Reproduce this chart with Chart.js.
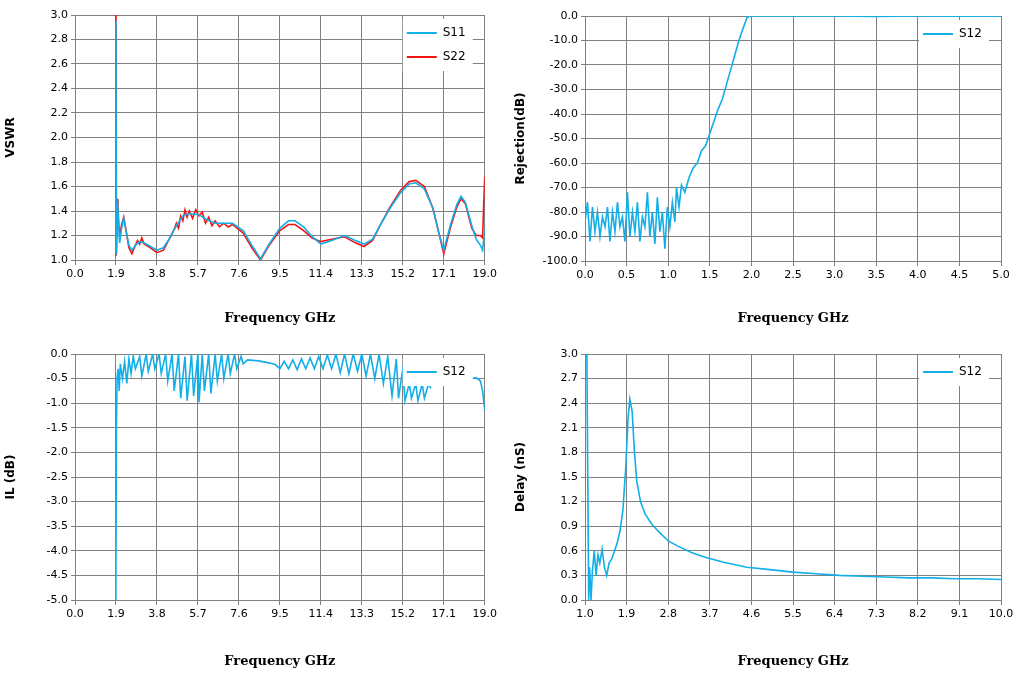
<!DOCTYPE html>
<html><head><meta charset="utf-8">
<script src="https://cdn.jsdelivr.net/npm/chart.js@4"></script>
<style>
body{margin:0;background:#fff;width:1027px;height:673px;position:relative;overflow:hidden}
.box{position:absolute}
</style></head><body>
<div class="box" style="left:0;top:0;width:500px;height:330px"><canvas id="c1"></canvas></div>
<div class="box" style="left:510px;top:0;width:517px;height:330px"><canvas id="c2"></canvas></div>
<div class="box" style="left:0;top:340px;width:500px;height:333px"><canvas id="c3"></canvas></div>
<div class="box" style="left:510px;top:340px;width:517px;height:333px"><canvas id="c4"></canvas></div>
<script>
const BLUE='#12aee8', RED='#f41414';

// VSWR
const s11=[[1.88,1.05],[1.9,2.95],[1.92,1.05],[1.95,1.3],[1.97,1.48],[2.02,1.3],[2.07,1.14],[2.15,1.25],[2.26,1.34],[2.35,1.25],[2.5,1.12],[2.64,1.08],[2.8,1.12],[3.0,1.15],[3.2,1.14],[3.5,1.11],[3.8,1.08],[4.1,1.1],[4.4,1.18],[4.7,1.28],[5.0,1.36],[5.3,1.38],[5.75,1.37],[6.1,1.33],[6.5,1.3],[6.9,1.3],[7.3,1.3],[7.8,1.24],[8.2,1.12],[8.6,1.01],[9.0,1.13],[9.5,1.26],[9.9,1.32],[10.2,1.32],[10.6,1.27],[11.0,1.19],[11.4,1.13],[11.9,1.16],[12.5,1.2],[13.0,1.16],[13.4,1.13],[13.8,1.17],[14.2,1.3],[14.6,1.42],[15.1,1.55],[15.5,1.62],[15.8,1.63],[16.2,1.58],[16.6,1.42],[16.9,1.2],[17.1,1.08],[17.4,1.28],[17.7,1.45],[17.9,1.52],[18.1,1.47],[18.4,1.28],[18.6,1.17],[18.8,1.12],[18.9,1.08],[19.0,1.25]];
const s22=[[1.88,1.04],[1.9,3.0],[1.92,1.05],[1.95,1.35],[1.98,1.5],[2.03,1.28],[2.08,1.2],[2.15,1.28],[2.26,1.35],[2.35,1.26],[2.5,1.1],[2.64,1.05],[2.8,1.12],[2.9,1.16],[3.0,1.13],[3.1,1.18],[3.2,1.13],[3.5,1.1],[3.8,1.06],[4.1,1.08],[4.4,1.18],[4.6,1.25],[4.7,1.3],[4.8,1.26],[4.9,1.36],[5.0,1.32],[5.1,1.41],[5.2,1.35],[5.3,1.4],[5.45,1.34],[5.6,1.41],[5.75,1.36],[5.9,1.39],[6.05,1.3],[6.2,1.35],[6.35,1.28],[6.5,1.32],[6.7,1.27],[6.9,1.3],[7.1,1.27],[7.3,1.29],[7.8,1.22],[8.2,1.1],[8.6,1.0],[9.0,1.12],[9.5,1.24],[9.9,1.29],[10.2,1.29],[10.6,1.24],[11.0,1.18],[11.4,1.15],[11.9,1.17],[12.5,1.19],[13.0,1.14],[13.4,1.11],[13.8,1.16],[14.2,1.3],[14.6,1.43],[15.1,1.57],[15.5,1.64],[15.8,1.65],[16.2,1.6],[16.6,1.42],[16.9,1.2],[17.1,1.05],[17.4,1.26],[17.7,1.43],[17.9,1.5],[18.1,1.46],[18.4,1.26],[18.6,1.2],[18.8,1.2],[18.9,1.18],[18.95,1.45],[19.0,1.68]];

// Rejection
const rej=[[0,-84],[0.03,-76],[0.06,-92],[0.09,-78],[0.12,-88],[0.15,-80],[0.18,-90],[0.21,-82],[0.24,-86],[0.27,-78],[0.3,-92],[0.33,-80],[0.36,-88],[0.39,-76],[0.42,-86],[0.45,-82],[0.48,-92],[0.51,-72],[0.54,-90],[0.57,-80],[0.6,-88],[0.63,-76],[0.66,-92],[0.69,-82],[0.72,-86],[0.75,-72],[0.78,-90],[0.81,-80],[0.84,-93],[0.87,-74],[0.9,-88],[0.93,-80],[0.96,-95],[0.99,-78],[1.02,-86],[1.05,-76],[1.08,-84],[1.1,-70],[1.13,-78],[1.16,-69],[1.2,-72],[1.25,-66],[1.3,-62],[1.35,-60],[1.4,-55],[1.45,-53],[1.5,-48],[1.55,-43],[1.6,-38],[1.65,-34],[1.7,-28],[1.75,-22],[1.8,-16],[1.85,-10],[1.9,-5],[1.95,-0.5],[2.0,0],[2.5,0],[3,0],[3.5,-0.2],[4,0],[4.5,-0.1],[5,0]];

// IL
const il=[[1.88,-5],[1.89,-3],[1.9,-4.9],[1.92,-1.5],[1.95,-0.5],[2.0,-0.3],[2.05,-0.75],[2.1,-0.2],[2.2,-0.5],[2.3,-0.15],[2.4,-0.6],[2.5,-0.1],[2.6,-0.4],[2.7,-0.05],[2.8,-0.3],[3.0,-0.05],[3.1,-0.45],[3.3,0],[3.4,-0.35],[3.6,0],[3.7,-0.3],[3.9,0],[4.0,-0.4],[4.2,0],[4.3,-0.55],[4.5,0],[4.6,-0.75],[4.8,0],[4.9,-0.9],[5.1,-0.05],[5.2,-0.95],[5.4,0],[5.5,-0.85],[5.7,0],[5.75,-0.98],[5.9,0],[6.0,-0.75],[6.2,0],[6.3,-0.8],[6.5,0],[6.6,-0.55],[6.8,0],[6.9,-0.5],[7.1,0],[7.2,-0.4],[7.4,0],[7.5,-0.3],[7.7,-0.05],[7.8,-0.2],[8.0,-0.12],[8.5,-0.14],[9.0,-0.18],[9.3,-0.22],[9.5,-0.3],[9.7,-0.15],[9.9,-0.3],[10.1,-0.12],[10.3,-0.32],[10.5,-0.1],[10.7,-0.3],[10.9,-0.08],[11.1,-0.3],[11.3,-0.05],[11.5,-0.3],[11.7,-0.02],[11.9,-0.3],[12.1,0],[12.3,-0.38],[12.5,0],[12.7,-0.4],[12.9,0],[13.1,-0.35],[13.3,0],[13.5,-0.45],[13.7,0],[13.9,-0.5],[14.1,0],[14.3,-0.6],[14.5,-0.05],[14.7,-0.85],[14.9,-0.1],[15.0,-0.9],[15.2,-0.3],[15.3,-0.95],[15.5,-0.6],[15.6,-0.9],[15.8,-0.6],[15.9,-0.95],[16.1,-0.6],[16.2,-0.9],[16.4,-0.6],[16.5,-0.7],[16.6,null],[18.4,-0.5],[18.6,-0.48],[18.8,-0.55],[18.9,-0.75],[19.0,-1.15]];

// Delay
const dly=[[1.04,3.0],[1.06,1.5],[1.08,0.0],[1.1,0.4],[1.13,0.0],[1.16,0.35],[1.2,0.6],[1.24,0.3],[1.28,0.55],[1.32,0.45],[1.37,0.62],[1.42,0.4],[1.47,0.3],[1.52,0.45],[1.58,0.5],[1.64,0.6],[1.7,0.7],[1.76,0.85],[1.82,1.1],[1.88,1.6],[1.93,2.2],[1.97,2.45],[2.02,2.3],[2.07,1.8],[2.12,1.45],[2.2,1.2],[2.3,1.05],[2.45,0.92],[2.6,0.83],[2.8,0.72],[3.0,0.66],[3.3,0.58],[3.6,0.52],[4.0,0.46],[4.5,0.4],[5.0,0.37],[5.5,0.34],[6.0,0.32],[6.5,0.3],[7.0,0.29],[7.5,0.28],[8.0,0.27],[8.5,0.27],[9.0,0.26],[9.5,0.26],[10.0,0.25]];

const pts=a=>a.map(p=>({x:p[0],y:p[1]}));
const tickFont={family:'Verdana, "DejaVu Sans"',size:11};
const titleFont={family:'"DejaVu Serif", serif',size:13,weight:'bold'};

const boxLegend={id:'boxLegend',afterDraw(c){
  const o=c.options.plugins.boxLegend, ctx=c.ctx, a=c.chartArea;
  const x=a.right-o.dx, y=a.top+o.dy, n=c.data.datasets.length;
  ctx.save(); ctx.fillStyle='#fff'; ctx.fillRect(x,y,70,n*24+4);
  ctx.font='12px Verdana, "DejaVu Sans"'; ctx.textBaseline='middle'; ctx.fillStyle='#000';
  c.data.datasets.forEach((d,i)=>{
    const yy=y+14+i*24;
    ctx.strokeStyle=d.borderColor; ctx.lineWidth=2;
    ctx.beginPath(); ctx.moveTo(x+4,yy); ctx.lineTo(x+34,yy); ctx.stroke();
    ctx.fillText(d.label,x+40,yy);
  });
  ctx.restore();
}};

function make(id,sets,xs,ys,pad,xh,leg){
  new Chart(document.getElementById(id),{
    type:'line',
    data:{datasets:sets.map(s=>({label:s.label,data:pts(s.data),borderColor:s.color,borderWidth:1.6,pointRadius:0,tension:0,spanGaps:false}))},
    options:{responsive:true,maintainAspectRatio:false,animation:false,parsing:false,
      layout:{padding:pad},
      plugins:{legend:{display:false},tooltip:{enabled:false},boxLegend:leg},
      scales:{
        x:{type:'linear',min:xs[0],max:xs[1],
          ticks:{stepSize:xs[2],font:tickFont,color:'#000',autoSkip:false,callback:v=>(+v).toFixed(1)},
          grid:{color:'#808080',tickLength:5},border:{color:'#808080'},
          title:{display:true,text:'Frequency GHz',font:titleFont,color:'#000',padding:{top:16}},
          afterFit:s=>{s.height=xh}},
        y:{min:ys[0],max:ys[1],
          ticks:{stepSize:ys[2],font:tickFont,color:'#000',autoSkip:false,callback:v=>(+v).toFixed(1)},
          grid:{color:'#808080',tickLength:4},border:{color:'#808080'},
          title:{display:true,text:ys[3],font:{family:'Verdana, "DejaVu Sans"',size:12,weight:'bold'},color:'#000'},
          afterFit:s=>{s.width=75}}
      }},
    plugins:[boxLegend]
  });
}

make('c1',[{label:'S11',data:s11,color:BLUE},{label:'S22',data:s22,color:RED}],[0,19,1.9],[1,3,0.2,'VSWR'],{top:15,right:14,left:0,bottom:0},70,{dx:82,dy:4});
make('c2',[{label:'S12',data:rej,color:BLUE}],[0,5,0.5],[-100,0,10,'Rejection(dB)'],{top:16,right:26,left:0,bottom:0},69,{dx:82,dy:4});
make('c3',[{label:'S12',data:il,color:BLUE}],[0,19,1.9],[-5,0,0.5,'IL (dB)'],{top:14,right:14,left:0,bottom:0},73,{dx:82,dy:4});
make('c4',[{label:'S12',data:dly,color:BLUE}],[1,10,0.9],[0,3,0.3,'Delay (nS)'],{top:14,right:26,left:0,bottom:0},73,{dx:82,dy:4});
</script>
</body></html>
